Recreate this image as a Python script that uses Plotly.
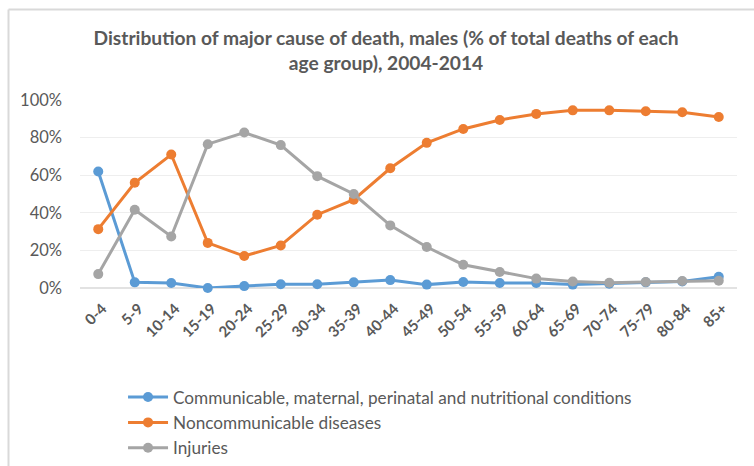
import plotly.graph_objects as go

age_groups = ["0-4", "5-9", "10-14", "15-19", "20-24", "25-29", "30-34", "35-39", "40-44",
              "45-49", "50-54", "55-59", "60-64", "65-69", "70-74", "75-79", "80-84", "85+"]
communicable = [62, 3, 2.7, 0, 1, 2, 2, 3, 4.2, 1.8, 3.2, 2.7, 2.7, 1.8, 2.3, 3, 3.5, 6]
noncommunicable = [31.3, 56, 71, 24, 17, 22.6, 39, 47, 63.7, 77.2, 84.6, 89.4, 92.6, 94.5, 94.5, 94, 93.5, 91]
injuries = [7.4, 41.6, 27.4, 76.5, 82.7, 76, 59.5, 50, 33.3, 21.8, 12.4, 8.5, 5, 3.5, 2.8, 3.2, 3.7, 3.9]

series = [
    ("Communicable, maternal, perinatal and nutritional conditions", communicable, "#5B9BD5"),
    ("Noncommunicable diseases", noncommunicable, "#ED7D31"),
    ("Injuries", injuries, "#A5A5A5"),
]

FONT = "Lato, 'Open Sans', sans-serif"
TXT = "#595959"

fig = go.Figure()
for name, vals, color in series:
    fig.add_trace(go.Scatter(
        x=age_groups, y=[v / 100 for v in vals], name=name, mode="lines+markers",
        line=dict(color=color, width=3), marker=dict(color=color, size=10),
        cliponaxis=False,
    ))

fig.update_layout(
    width=754, height=466,
    margin=dict(l=80, r=17, t=100, b=178, autoexpand=False),
    paper_bgcolor="white", plot_bgcolor="white",
    font=dict(family=FONT, color=TXT, size=14),
    title=dict(
        text="<b>Distribution of major cause of death, males (% of total deaths of each<br>age group), 2004-2014</b>",
        x=0.512, xanchor="center", y=0.903, yanchor="top",
        font=dict(family=FONT, size=19.2, color=TXT),
    ),
    showlegend=True,
    legend=dict(
        x=0.0655, xanchor="left", y=-0.486, yanchor="top",
        font=dict(family=FONT, size=17.2, color=TXT),
        tracegroupgap=0, itemwidth=40,
        bgcolor="rgba(0,0,0,0)",
    ),
    xaxis=dict(
        type="category", range=[-0.5, 17.5], tickangle=-45, automargin=False,
        showgrid=False, showline=False, zeroline=False, ticks="",
        tickfont=dict(family=FONT, size=15, color=TXT, weight="bold"),
        ticklabelstandoff=8, ticklabelshift=4,
    ),
    yaxis=dict(
        range=[0, 1], tickvals=[0, 0.2, 0.4, 0.6, 0.8, 1.0], tickformat=".0%",
        showgrid=True, gridcolor="#eeeeee", gridwidth=1, automargin=False,
        zeroline=False, showline=False, ticks="",
        ticklabelstandoff=17,
        tickfont=dict(family=FONT, size=16.5, color=TXT),
    ),
    shapes=[
        dict(type="line", xref="paper", yref="paper", x0=0, x1=1, y0=0, y1=0,
             line=dict(color="#d9d9d9", width=1.5), layer="below"),
        dict(type="line", xref="paper", yref="paper",
             x0=(8.5 - 80) / 657, x1=(754 - 80) / 657,
             y0=1 + (100 - 9.5) / 188, y1=1 + (100 - 9.5) / 188,
             line=dict(color="#d9d9d9", width=2)),
        dict(type="line", xref="paper", yref="paper",
             x0=(8.5 - 80) / 657, x1=(8.5 - 80) / 657,
             y0=1 + (100 - 9.5) / 188, y1=-(466 - 288) / 188,
             line=dict(color="#d9d9d9", width=2)),
    ],
)

fig.write_html("out.html", config={"displayModeBar": False},
               post_script="document.body.style.margin='0';document.body.style.overflow='hidden';")
